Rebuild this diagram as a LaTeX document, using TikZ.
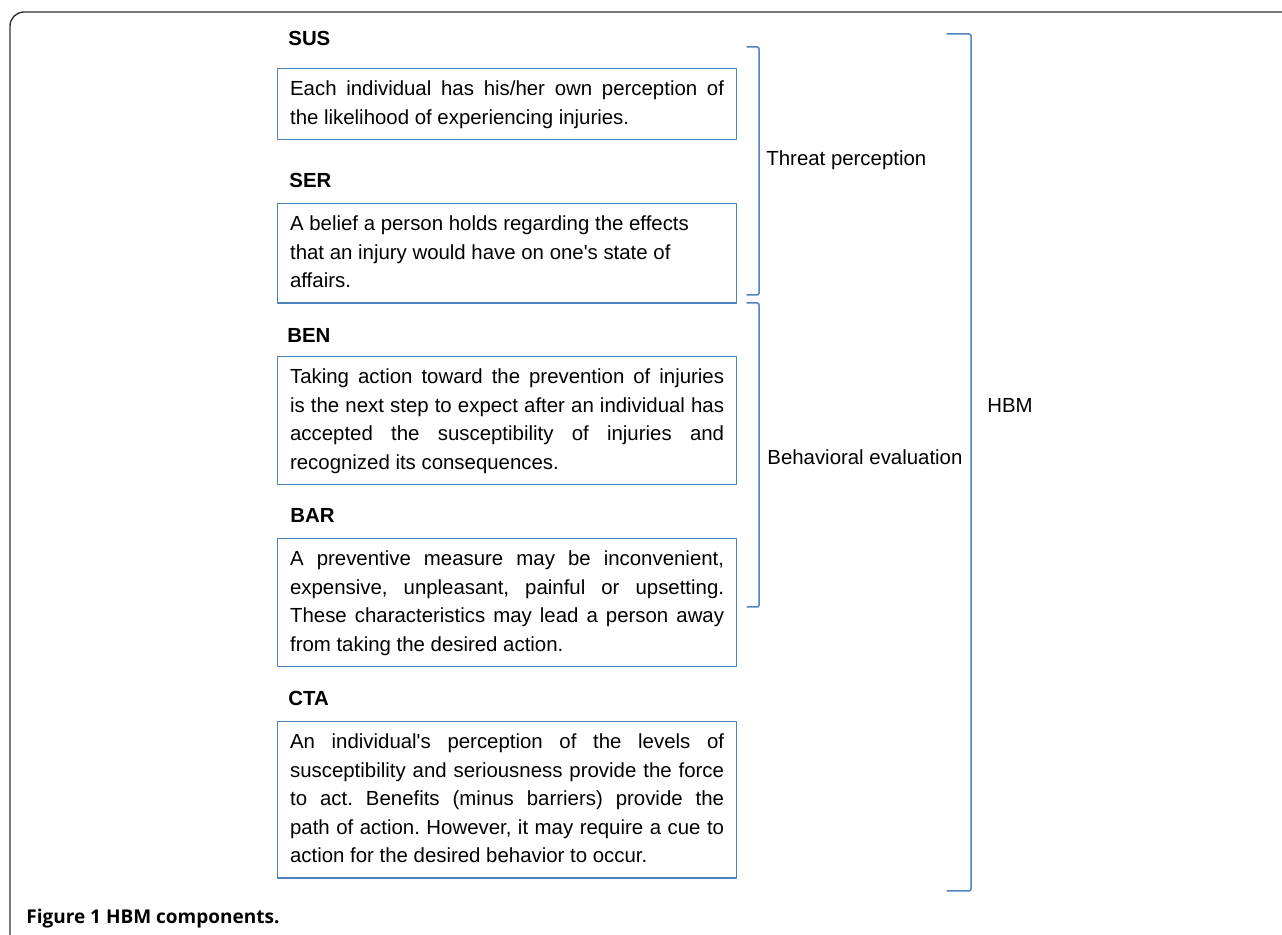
\documentclass[tikz,border=0pt]{standalone}
\usepackage{fontspec}
\setmainfont{Liberation Sans}[Ligatures=TeXOff]
\newfontfamily\capfont{Open Sans}
\definecolor{hbmblue}{RGB}{79,129,189}
\frenchspacing

\begin{document}
\begin{tikzpicture}[x=0.5pt,y=-0.5pt,line join=round,line cap=round,
    font=\fontsize{10.2pt}{14.25pt}\selectfont,
    txtbox/.style={draw=hbmblue,line width=0.6pt,anchor=north west,text width=217pt,
      inner xsep=6.25pt,inner ysep=3.5pt,align=justify},
    head/.style={anchor=west,inner sep=0pt,font=\fontsize{10.2pt}{14.25pt}\selectfont\bfseries},
    brace/.style={draw=hbmblue,line width=0.75pt,rounded corners=1pt},
    side/.style={anchor=west,inner sep=0pt}]
  \useasboundingbox (0,0) rectangle (1282,935);
  % frame
  \draw[black!80,line width=0.7pt,rounded corners=7pt] (10,935) -- (10,12) -- (1282,12);
  % components
  \node[head] (sus) at (288,38) {SUS};
  \node[txtbox] (susbox) at (277,68) {\strut Each individual has his/her own perception of\linebreak the likelihood of experiencing injuries.\strut};
  \node[head] (ser) at (289,180) {SER};
  \node[txtbox] (serbox) at (277,203) {\strut A belief a person holds regarding the effects\\ that an injury would have on one's state of\\ affairs.\strut};
  \node[head] (ben) at (287,335) {BEN};
  \node[txtbox] (benbox) at (277,356) {\strut Taking action toward the prevention of injuries\linebreak is the next step to expect after an individual has\linebreak accepted the susceptibility of injuries and\linebreak recognized its consequences.\strut};
  \node[head] (bar) at (290,515) {BAR};
  \node[txtbox] (barbox) at (277,538) {\strut A preventive measure may be inconvenient,\linebreak expensive, unpleasant, painful or upsetting.\linebreak These characteristics may lead a person away\linebreak from taking the desired action.\strut};
  \node[head] (cta) at (288,698) {CTA};
  \node[txtbox] (ctabox) at (277,721) {\strut An individual's perception of the levels of\linebreak susceptibility and seriousness provide the force\linebreak to act. Benefits (minus barriers) provide the\linebreak path of action. However, it may require a cue to\linebreak action for the desired behavior to occur.\strut};
  % groups
  \draw[brace] (747,47) -- (759,47) -- (759,295) -- (747,295);
  \node[side] (threat) at (766,160) {Threat perception};
  \draw[brace] (747,303) -- (759,303) -- (759,607) -- (747,607);
  \node[side] (behav) at (767,457) {Behavioral evaluation};
  \draw[brace] (947,34) -- (971,34) -- (971,891) -- (947,891);
  \node[side] (hbm) at (987,405) {HBM};
  % caption
  \node[anchor=west,inner sep=0pt,font=\capfont\bfseries\fontsize{9.5pt}{11pt}\selectfont] (caption) at (26,919) {Figure 1 HBM components.};
\end{tikzpicture}
\end{document}
